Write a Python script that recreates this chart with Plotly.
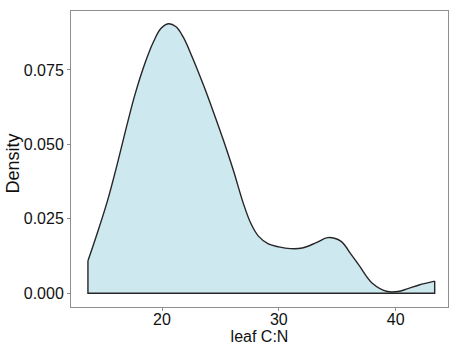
import plotly.graph_objects as go

# Density curve of leaf C:N
leaf_cn = [13.66, 14.4, 15.35, 16.26, 16.98, 17.69, 18.6, 19.25, 19.9, 20.54,
           21.2, 21.82, 22.6, 23.54, 24.39, 25.25, 26.1, 26.96, 27.6, 28.25,
           29.1, 30.0, 31.0, 32.0, 33.2, 34.2, 35.3, 36.2, 36.9, 38.0,
           39.3, 40.2, 41.0, 42.0, 43.34]
density = [0.0109, 0.0195, 0.0313, 0.0448, 0.0562, 0.0668, 0.0779, 0.0843, 0.0889, 0.0905,
           0.0895, 0.0860, 0.0792, 0.0700, 0.0610, 0.0515, 0.0414, 0.0302, 0.0235, 0.0192,
           0.0166, 0.0156, 0.0150, 0.0152, 0.0170, 0.0187, 0.0175, 0.0130, 0.0092, 0.0034,
           0.0006, 0.0006, 0.0015, 0.0028, 0.0041]

x_ticks = [20, 30, 40]
y_ticks = [0.0, 0.025, 0.05, 0.075]

FILL = "rgba(206,232,240,1)"
LINE = "#262626"
AXIS = "#8f8f8f"

fig = go.Figure()
fig.add_trace(go.Scatter(
    x=leaf_cn, y=density, mode="lines",
    line=dict(color=LINE, width=1.4, shape="spline", smoothing=1.0),
    fill="tozeroy", fillcolor=FILL, hoverinfo="skip", showlegend=False,
))
# closing outline: vertical edges and baseline
fig.add_trace(go.Scatter(
    x=[leaf_cn[-1], leaf_cn[-1], leaf_cn[0], leaf_cn[0]],
    y=[density[-1], 0, 0, density[0]],
    mode="lines", line=dict(color=LINE, width=1.4),
    hoverinfo="skip", showlegend=False,
))

font_family = "Liberation Sans, Arial, sans-serif"
fig.update_layout(
    width=449, height=347,
    margin=dict(l=71, r=1, t=11, b=40),
    paper_bgcolor="white", plot_bgcolor="white",
    font=dict(family=font_family, color="#111111", size=16),
    xaxis=dict(
        range=[12.21, 44.48], tickvals=x_ticks, ticktext=[str(v) for v in x_ticks],
        showgrid=False, zeroline=False, showline=True, mirror=True,
        linecolor=AXIS, linewidth=1, ticks="outside", ticklen=3, tickcolor=AXIS,
        ticklabelstandoff=-5,
        tickfont=dict(size=16), title=dict(text="leaf C:N", font=dict(size=16), standoff=0),
        automargin=False,
    ),
    yaxis=dict(
        range=[-0.0046, 0.0948], tickvals=y_ticks, tickformat=".3f",
        showgrid=False, zeroline=False, showline=True, mirror=True,
        linecolor=AXIS, linewidth=1, ticks="outside", ticklen=3, tickcolor=AXIS,
        tickfont=dict(size=16), automargin=False,
    ),
    annotations=[dict(
        text="Density", textangle=-90, xref="paper", yref="paper",
        x=-0.153, y=0.486, xanchor="center", yanchor="middle",
        showarrow=False, font=dict(size=18, family=font_family, color="#111111"),
    )],
)

fig.write_html("out.html", config={"displayModeBar": False},
               post_script="document.body.style.margin='0';")
